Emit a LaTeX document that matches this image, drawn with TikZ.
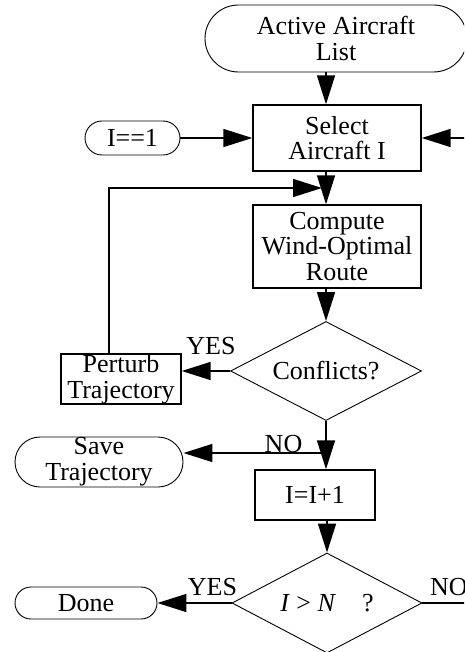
\documentclass[tikz,border=0pt]{standalone}
\usepackage{fontspec}
\setmainfont{Liberation Serif}
\usetikzlibrary{arrows.meta,shapes.geometric}

\begin{document}
\begin{tikzpicture}[x=1pt,y=1pt,yscale=-1,
    every node/.style={font=\fontsize{26}{25.7}\selectfont, align=center, inner sep=0pt},
    procbox/.style={draw, line width=1.4pt, rectangle},
    termbox/.style={draw, line width=0.9pt, rectangle, rounded corners=#1},
    decbox/.style={draw, line width=0.9pt, diamond, aspect=2},
    flow/.style={line width=1.5pt, -{Triangle[length=29pt,width=18pt]}},
    plain/.style={line width=1.5pt}]
  \useasboundingbox (0,0) rectangle (464,652);
  \clip (0,0) rectangle (464,652);

  % boxes
  \node[termbox=33.5, minimum width=262, minimum height=67] (active) at (336,38.5) {Active Aircraft\\List};
  \node[procbox, minimum width=168, minimum height=66] (select) at (337,138) {Select\\Aircraft I};
  \node[termbox=17, minimum width=95, minimum height=34] (init) at (132.5,138) {I==1};
  \node[procbox, minimum width=168, minimum height=83] (route) at (337,246.5) {Compute\\Wind-Optimal\\Route};
  \node[decbox, minimum width=191, minimum height=99] (conflict) at (326,371) {Conflicts?};
  \node[procbox, minimum width=120, minimum height=50] (perturb) at (121,379) {Perturb\\Trajectory};
  \node[procbox, minimum width=120, minimum height=50] (incr) at (315,495) {I=I+1};
  \node[termbox=25, minimum width=168, minimum height=50] (save) at (99,462) {Save\\Trajectory};
  \node[decbox, minimum width=190, minimum height=100] (test) at (327,603) {\textit{I} > \textit{N}\quad ?};
  \node[termbox=16, minimum width=142, minimum height=32] (done) at (86,603) {Done};

  % labels
  \node (yes1) at (211,346) {YES};
  \node (no1) at (283.5,444.5) {NO};
  \node (yes2) at (212.5,587.5) {YES};
  \node[anchor=west] (no2) at (430,587.5) {NO};

  % helper points
  \coordinate (spine) at (326,0);
  \coordinate (merge) at (322,188);
  \coordinate (loop) at (109,188);
  \coordinate (split) at (326,453);
  \coordinate (inR) at (470,138);
  \coordinate (outR) at (470,603);

  % connectors
  \draw[flow] (active.south -| spine) -- (select.north -| spine);
  \draw[flow] (init) -- (select);
  \draw[flow] (inR) -- (select.east);
  \draw[flow] (select.south -| spine) -- (route.north -| spine);
  \draw[flow] (perturb.north -| loop) |- (merge);
  \draw[flow] (route.south -| spine) -- (conflict.north);
  \draw[flow] (conflict.west) -- (conflict.west -| perturb.east);
  \draw[flow] (conflict.south) -- (conflict.south |- incr.north);
  \draw[flow] (split) -- (split -| save.east);
  \draw[flow] (incr.south -| test.north) -- (test.north);
  \draw[flow] (test.west) -- (done.east);
  \draw[plain] (test.east) -- (outR);
\end{tikzpicture}
\end{document}
